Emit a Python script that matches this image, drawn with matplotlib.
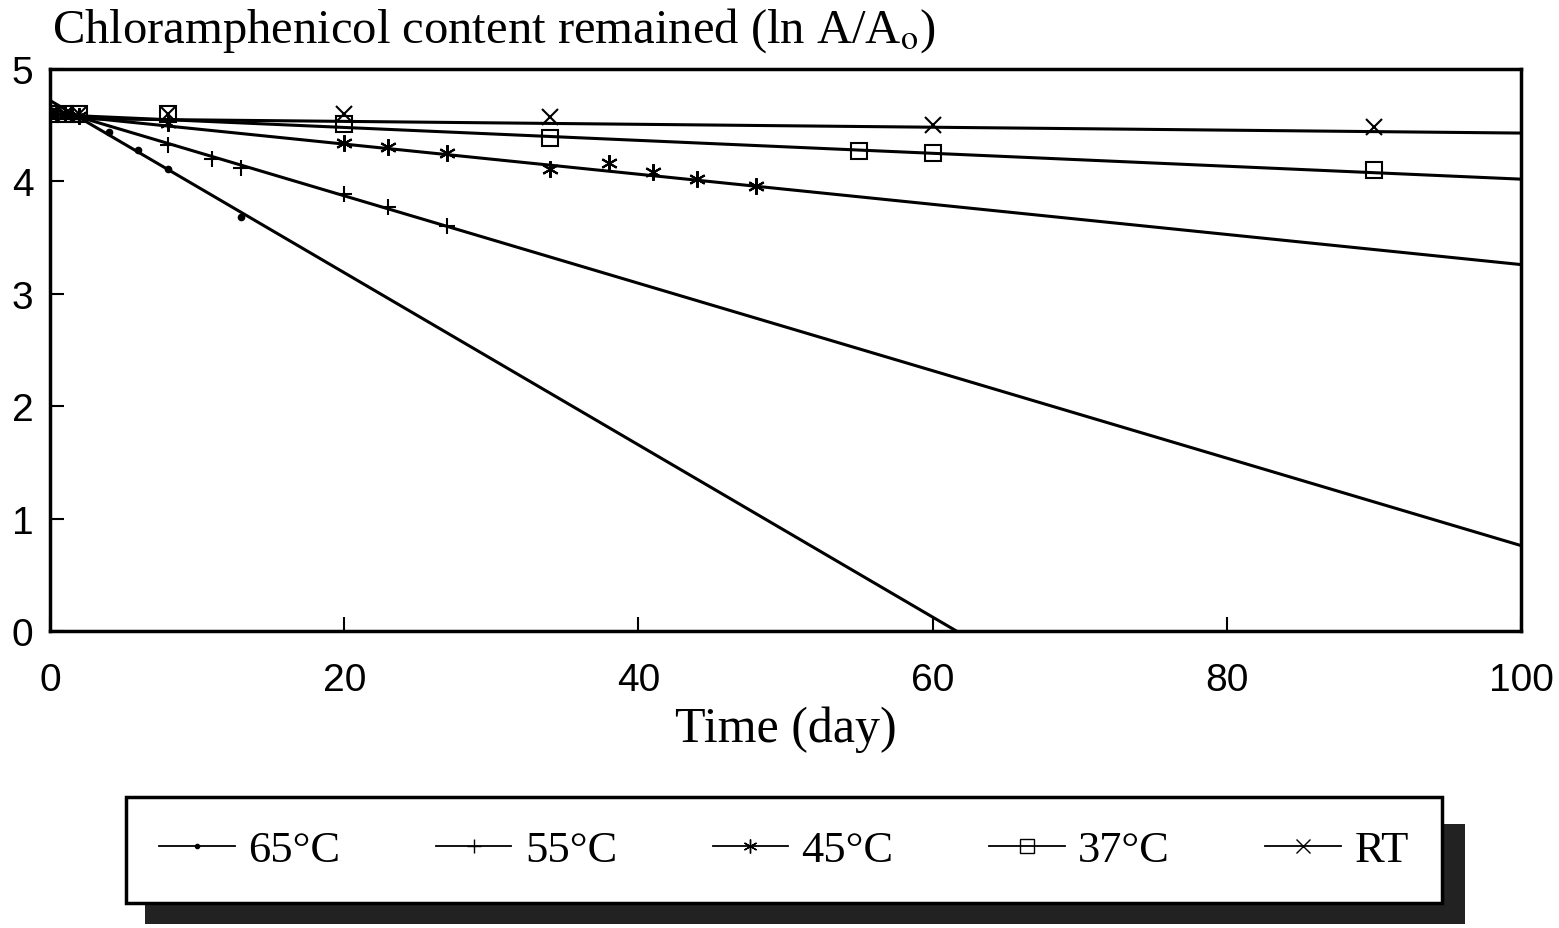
import numpy as np
import matplotlib.pyplot as plt
from matplotlib.patches import Rectangle
from matplotlib.lines import Line2D

plt.rcParams["mathtext.fontset"] = "stix"

labels = ["65\u00b0C", "55\u00b0C", "45\u00b0C", "37\u00b0C", "RT"]
markers = [".", "+", (6, 2, 0), "s", "x"]

# measured points (day, ln A/Ao)
day_65 = [0, 1, 2, 4, 6, 8, 13]
val_65 = [4.6, 4.6, 4.58, 4.44, 4.28, 4.11, 3.68]
day_55 = [0, 1, 2, 8, 11, 13, 20, 23, 27]
val_55 = [4.6, 4.6, 4.58, 4.32, 4.2, 4.12, 3.89, 3.77, 3.6]
day_45 = [0, 1, 2, 8, 20, 23, 27, 34, 38, 41, 44, 48]
val_45 = [4.6, 4.6, 4.58, 4.52, 4.34, 4.31, 4.25, 4.11, 4.16, 4.08, 4.02, 3.96]
day_37 = [0, 1, 2, 8, 20, 34, 55, 60, 90]
val_37 = [4.6, 4.6, 4.6, 4.6, 4.51, 4.39, 4.27, 4.25, 4.1]
day_rt = [0, 1, 2, 8, 20, 34, 60, 90]
val_rt = [4.6, 4.6, 4.6, 4.6, 4.6, 4.57, 4.5, 4.48]

# regression lines (intercept, slope)
fit_intercept = [4.72, 4.65, 4.60, 4.595, 4.56]
fit_slope = [-0.0766, -0.0389, -0.0134, -0.00575, -0.0013]

days = [day_65, day_55, day_45, day_37, day_rt]
vals = [val_65, val_55, val_45, val_37, val_rt]

fig = plt.figure(figsize=(15.59, 9.29), dpi=100)
ax = fig.add_axes([50 / 1559, 1 - 632 / 929, 1471 / 1559, 562 / 929])

xline = np.array([0, 100])
for i in range(5):
    ax.plot(xline, fit_intercept[i] + fit_slope[i] * xline, color="k", lw=2.2, zorder=2)
    ms = 8 if i == 0 else 12
    ax.plot(days[i], vals[i], linestyle="none", marker=markers[i], ms=ms,
            mec="k", mfc="none" if i == 3 else "k", mew=1.5, color="k", zorder=3)

ax.set_xlim(0, 100)
ax.set_ylim(0, 5)
ax.set_xticks(range(0, 101, 20))
ax.set_yticks(range(0, 6))
for s in ax.spines.values():
    s.set_linewidth(2.5)
ax.tick_params(direction="in", length=10, width=1.5, labelsize=28)
ax.tick_params(axis="x", pad=22)
ax.tick_params(axis="y", pad=12)
for t in ax.get_xticklabels() + ax.get_yticklabels():
    t.set_fontfamily("Liberation Sans")

ax.set_xlabel("Time (day)", fontsize=36, family="Liberation Serif", labelpad=6)
fig.text(52 / 1559, 1 - 43 / 929, r"Chloramphenicol content remained (ln A/A$_{\rm o}$)",
         fontsize=35, family="Liberation Serif", va="baseline", ha="left")

# legend with a solid shadow
fig.patches.append(Rectangle((145 / 1559, 1 - 925 / 929), 1320 / 1559, 100 / 929,
                             transform=fig.transFigure, facecolor="#222222",
                             edgecolor="none", zorder=0))
handles = [Line2D([], [], color="k", lw=1.3, marker=markers[i], ms=6 if i == 0 else 10,
                  mfc="none" if i == 3 else "k", mew=1.0) for i in range(5)]
leg = fig.legend(handles, labels, ncol=5, loc="center",
                 bbox_to_anchor=(784 / 1559, 1 - 851 / 929),
                 frameon=True, fancybox=False, handlelength=1.7,
                 handletextpad=0.3, columnspacing=2.15, borderpad=0.75,
                 prop={"family": "Liberation Serif", "size": 32})
leg.get_frame().set_edgecolor("k")
leg.get_frame().set_linewidth(2.5)
leg.get_frame().set_facecolor("white")
leg.get_frame().set_alpha(1)

fig.savefig("out.png", dpi=100)
